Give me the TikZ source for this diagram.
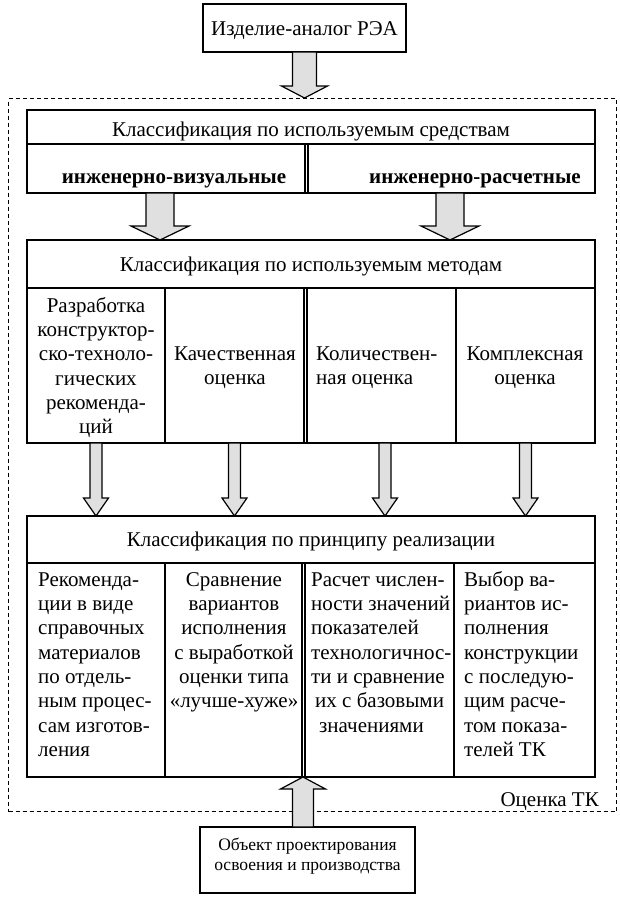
\documentclass[tikz,border=0pt]{standalone}
\usepackage{fontspec}
\setmainfont{Liberation Serif}
\usetikzlibrary{calc}
\newcommand\topfix{\rule{0pt}{15pt}}
% block arrow: #1 start, #2 tip, #3 shaft half width, #4 head half width, #5 head length
\newcommand\dnarr[5]{%
  \draw[blk] let \p1=(#1), \p2=(#2) in
    (\x2-#3,\y1) -- (\x2-#3,\y2+#5) -- (\x2-#4,\y2+#5) -- (\x2,\y2)
    -- (\x2+#4,\y2+#5) -- (\x2+#3,\y2+#5) -- (\x2+#3,\y1) -- cycle;}
\newcommand\uparr[5]{%
  \draw[blk] let \p1=(#1), \p2=(#2) in
    (\x2-#3,\y1) -- (\x2-#3,\y2-#5) -- (\x2-#4,\y2-#5) -- (\x2,\y2)
    -- (\x2+#4,\y2-#5) -- (\x2+#3,\y2-#5) -- (\x2+#3,\y1) -- cycle;}
\begin{document}
\begin{tikzpicture}[x=1pt,y=-1pt,
  cell/.style={draw, line width=1.5pt, inner sep=0pt, outer sep=0pt, anchor=north west},
  txt/.style={inner sep=0pt, font=\fontsize{21}{24.3}\selectfont, align=center},
  ctxt/.style={txt, anchor=north},
  ltxt/.style={txt, align=left, anchor=north west},
  btxt/.style={inner sep=0pt, font=\fontsize{21}{24.3}\selectfont\bfseries, anchor=base},
  blk/.style={draw, line width=1.2pt, fill=black!12, line join=miter},
  dashframe/.style={draw, line width=1.2pt, dash pattern=on 4pt off 3pt, inner sep=0pt, anchor=north west},
  dbl/.style={line width=1.5pt},
]
\useasboundingbox (0,0) rectangle (620,898);
% top box
\node[cell, minimum width=203pt, minimum height=48pt] (top) at (203,4) {};
\node[txt, anchor=base] (toptxt) at (304.5,35) {Изделие-аналог РЭА};
% dashed frame
\node[dashframe, minimum width=608pt, minimum height=713pt] (frame) at (8,98) {};
\node[inner sep=0pt, font=\fontsize{21}{24.3}\selectfont, anchor=base east] (otk) at (599,806) {Оценка ТК};

% box 1
\node[cell, minimum width=568pt, minimum height=34pt] (b1h) at (27,110) {};
\node[txt, anchor=base] (b1htxt) at (311,136) {Классификация по используемым средствам};
\node[cell, minimum width=278pt, minimum height=49pt] (b1l) at (27,144) {};
\node[cell, minimum width=290pt, minimum height=49pt] (b1r) at (305,144) {};
\draw[dbl] ($(b1r.north west)+(3,0)$) -- ($(b1r.south west)+(3,0)$);
\node[btxt] (b1ltxt) at (174,183) {инженерно-визуальные};
\node[btxt] (b1rtxt) at (475,183) {инженерно-расчетные};

% box 2
\node[cell, minimum width=568pt, minimum height=48pt] (b2h) at (27,240) {};
\node[txt, anchor=base] (b2htxt) at (311,271) {Классификация по используемым методам};
\node[cell, minimum width=138pt, minimum height=155pt] (b2a) at (27,288) {};
\node[cell, minimum width=139pt, minimum height=155pt] (b2b) at (165,288) {};
\node[cell, minimum width=152pt, minimum height=155pt] (b2c) at (304,288) {};
\node[cell, minimum width=139pt, minimum height=155pt] (b2d) at (456,288) {};
\draw[dbl] ($(b2c.north west)+(3,0)$) -- ($(b2c.south west)+(3,0)$);
\node[ctxt] (b2atxt) at (96,297) {\topfix Разработка\\конструктор-\\ско-техноло-\\гических\\рекоменда-\\ций};
\node[ctxt] (b2btxt) at (235,345) {\topfix Качественная\\оценка};
\node[ltxt] (b2ctxt) at (316,345) {\topfix Количествен-\\ная оценка};
\node[ctxt] (b2dtxt) at (525,345) {\topfix Комплексная\\оценка};

% box 3
\node[cell, minimum width=568pt, minimum height=47pt] (b3h) at (27,516) {};
\node[txt, anchor=base] (b3htxt) at (311,546) {Классификация по принципу реализации};
\node[cell, minimum width=138pt, minimum height=214pt] (b3a) at (27,563) {};
\node[cell, minimum width=137pt, minimum height=214pt] (b3b) at (165,563) {};
\node[cell, minimum width=152pt, minimum height=214pt] (b3c) at (302,563) {};
\node[cell, minimum width=141pt, minimum height=214pt] (b3d) at (454,563) {};
\draw[dbl] ($(b3c.north west)+(3,0)$) -- ($(b3c.south west)+(3,0)$);
\node[ltxt] (b3atxt) at (38,571) {\topfix Рекоменда-\\ции в виде\\справочных\\материалов\\по отдель-\\ным процес-\\сам изготов-\\ления};
\node[ctxt] (b3btxt) at (234,571) {\topfix Сравнение\\вариантов\\исполнения\\с выработкой\\оценки типа\\«лучше-хуже»};
\node[ltxt] (b3ctxt) at (311,571) {\topfix Расчет числен-\\ности значений\\показателей\\технологичнос-\\ти и сравнение\\\hspace*{4pt}их с базовыми\\\hspace*{8pt}значениями};
\node[ltxt] (b3dtxt) at (464,571) {\topfix Выбор ва-\\риантов ис-\\полнения\\конструкции\\с последую-\\щим расче-\\том показа-\\телей ТК};

% bottom box
\node[cell, minimum width=215pt, minimum height=66pt] (bot) at (200,827) {};
\node[txt, font=\fontsize{17.5}{20}\selectfont, anchor=north] (bottxt) at (307.5,838) {\rule{0pt}{12pt}Объект проектирования\\освоения и производства};

% arrow anchor points
\coordinate (a1) at ($(b1l.south west)+(133,0)$);
\coordinate (a2) at ($(b1r.south west)+(145,0)$);
\coordinate (a3) at ($(b2c.south)+(5,0)$);
\coordinate (a4) at ($(bot.north)+(-4.5,0)$);
% arrows
\dnarr{top.south}{top.south |- frame.north}{12}{23}{12}
\dnarr{a1}{a1 |- b2h.north}{14}{29}{14}
\dnarr{a2}{a2 |- b2h.north}{14}{29}{14}
\dnarr{b2a.south}{b2a.south |- b3h.north}{6}{12.5}{18}
\dnarr{b2b.south}{b2b.south |- b3h.north}{6}{12.5}{18}
\dnarr{a3}{a3 |- b3h.north}{6}{12.5}{18}
\dnarr{b2d.south}{b2d.south |- b3h.north}{6}{12.5}{18}
\uparr{a4}{a4 |- b3c.south west}{10.5}{22.5}{12}
\end{tikzpicture}
\end{document}
